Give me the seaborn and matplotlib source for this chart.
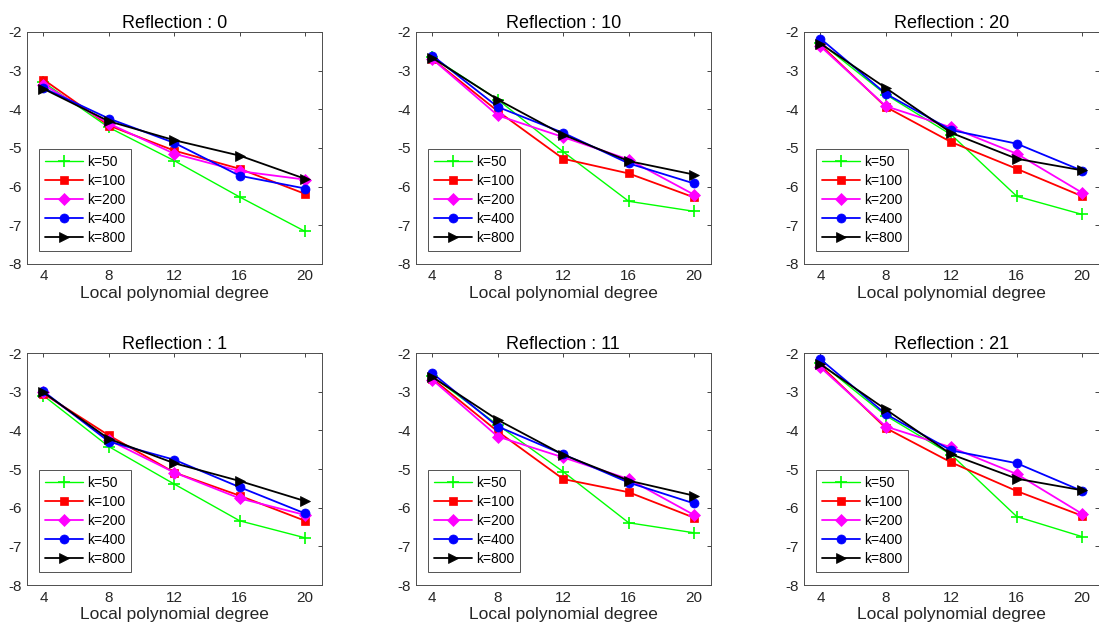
import matplotlib
matplotlib.use("Agg")
import matplotlib.pyplot as plt
import pandas as pd
import seaborn as sns

sns.set_theme(style="white")
plt.rcParams["font.family"] = ["Liberation Sans", "DejaVu Sans"]
plt.rcParams["axes.unicode_minus"] = False

degrees = [4, 8, 12, 16, 20]
k_labels = ["k=50", "k=100", "k=200", "k=400", "k=800"]
colors = ["#00ff00", "#ff0000", "#ff00ff", "#0000ff", "#000000"]
markers = ["+", "s", "D", "o", ">"]

# values read per panel, one row per k (50, 100, 200, 400, 800)
refl_0 = [
    [-3.30, -4.47, -5.33, -6.27, -7.16],
    [-3.23, -4.42, -5.07, -5.54, -6.19],
    [-3.36, -4.37, -5.15, -5.60, -5.82],
    [-3.45, -4.24, -4.87, -5.72, -6.05],
    [-3.47, -4.31, -4.80, -5.20, -5.80],
]
refl_10 = [
    [-2.65, -3.75, -5.10, -6.38, -6.64],
    [-2.70, -4.05, -5.28, -5.66, -6.28],
    [-2.70, -4.16, -4.72, -5.30, -6.21],
    [-2.61, -3.94, -4.61, -5.40, -5.92],
    [-2.67, -3.75, -4.66, -5.34, -5.69],
]
refl_20 = [
    [-2.28, -3.62, -4.66, -6.25, -6.72],
    [-2.33, -3.94, -4.85, -5.54, -6.25],
    [-2.37, -3.92, -4.47, -5.15, -6.16],
    [-2.17, -3.60, -4.54, -4.89, -5.59],
    [-2.30, -3.45, -4.61, -5.28, -5.58],
]
refl_1 = [
    [-3.10, -4.42, -5.39, -6.34, -6.78],
    [-3.05, -4.13, -5.09, -5.69, -6.34],
    [-3.02, -4.25, -5.09, -5.76, -6.19],
    [-2.99, -4.29, -4.76, -5.47, -6.15],
    [-3.02, -4.22, -4.85, -5.31, -5.83],
]
refl_11 = [
    [-2.60, -3.86, -5.07, -6.39, -6.65],
    [-2.66, -4.03, -5.26, -5.60, -6.26],
    [-2.69, -4.16, -4.70, -5.26, -6.19],
    [-2.52, -3.90, -4.62, -5.35, -5.89],
    [-2.62, -3.73, -4.63, -5.30, -5.69],
]
refl_21 = [
    [-2.26, -3.62, -4.63, -6.23, -6.75],
    [-2.32, -3.94, -4.83, -5.57, -6.21],
    [-2.37, -3.90, -4.44, -5.13, -6.16],
    [-2.16, -3.58, -4.52, -4.85, -5.57],
    [-2.29, -3.46, -4.62, -5.25, -5.55],
]

panels = [
    ("Reflection : 0", refl_0),
    ("Reflection : 10", refl_10),
    ("Reflection : 20", refl_20),
    ("Reflection : 1", refl_1),
    ("Reflection : 11", refl_11),
    ("Reflection : 21", refl_21),
]

marker_sizes = {"+": 8, "s": 6, "D": 6, "o": 6.5, ">": 7.5}

fig = plt.figure(figsize=(10.99, 6.39), dpi=100)
lefts = [0.0246, 0.3785, 0.7316]
bottoms = [0.587, 0.0845]
text_color = "#262626"

for idx, (title, values) in enumerate(panels):
    row, col = divmod(idx, 3)
    ax = fig.add_axes([lefts[col], bottoms[row], 0.268, 0.363])
    for label, color, marker, series in zip(k_labels, colors, markers, values):
        df = pd.DataFrame({"degree": degrees, "value": series})
        sns.lineplot(
            data=df, x="degree", y="value", ax=ax, color=color, marker=marker,
            markersize=marker_sizes[marker], markeredgecolor=color,
            markerfacecolor=color, markeredgewidth=1.2 if marker == "+" else 0.5,
            linewidth=1.0 if marker == "+" else 1.3, label=label,
        )
    ax.set_xlim(3, 21)
    ax.set_ylim(-8, -2)
    ax.set_xticks(degrees)
    ax.set_yticks([-2, -3, -4, -5, -6, -7, -8])
    ax.set_title(title, fontsize=13, color="black", pad=3)
    ax.set_xlabel("Local polynomial degree", fontsize=12.5, color=text_color, labelpad=2)
    ax.set_ylabel("")
    ax.tick_params(direction="in", length=3, width=0.6, top=True, right=True,
                   labelsize=11, colors=text_color, pad=4)
    for spine in ax.spines.values():
        spine.set_color("#4d4d4d")
        spine.set_linewidth(0.7)
    leg = ax.legend(loc="lower left", bbox_to_anchor=(0.04, 0.056), borderaxespad=0,
                    fontsize=10, frameon=True, fancybox=False, handlelength=2.7,
                    handletextpad=0.3, labelspacing=0.35, borderpad=0.45)
    leg.get_frame().set_edgecolor(text_color)
    leg.get_frame().set_linewidth(0.7)
    for text in leg.get_texts():
        text.set_color("black")

fig.savefig("out.png", dpi=100)
